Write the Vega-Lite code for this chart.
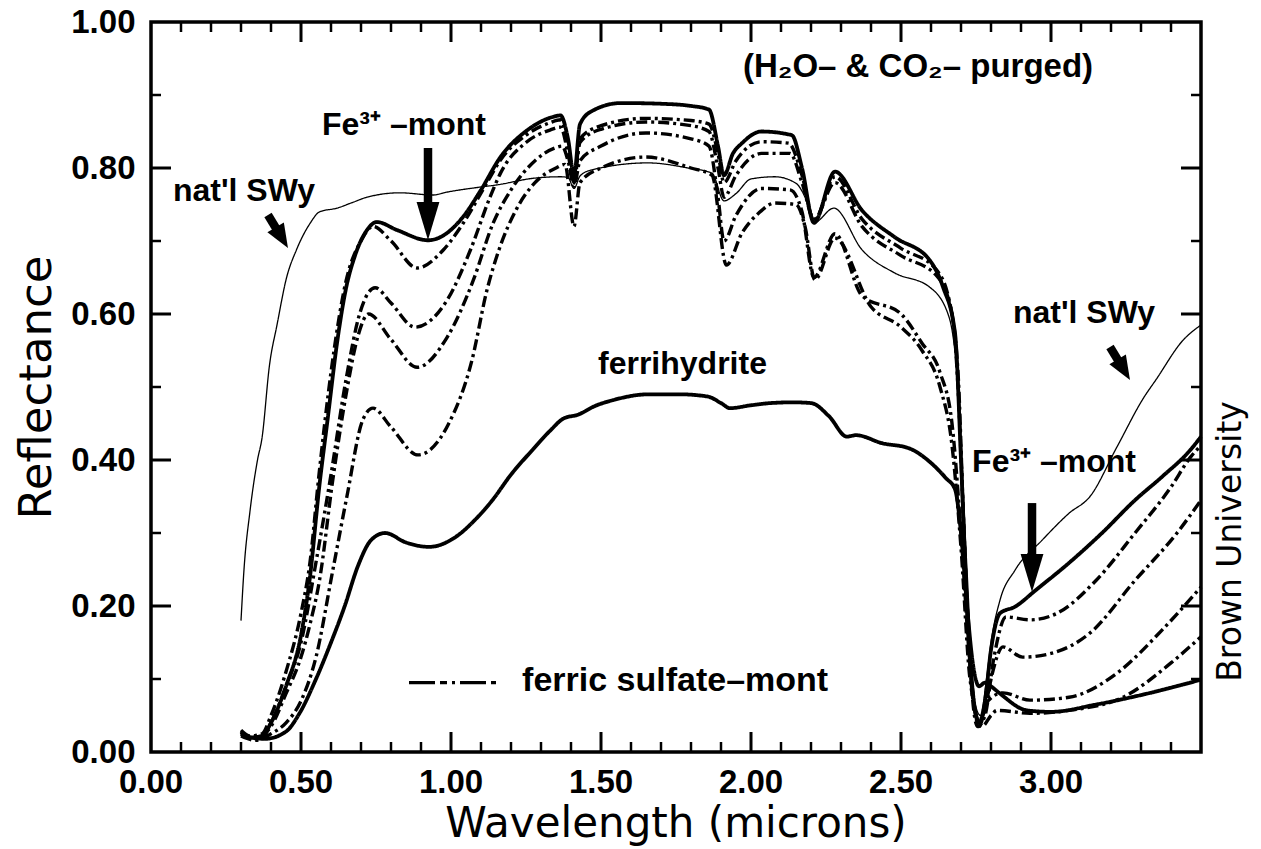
{
  "$schema": "https://vega.github.io/schema/vega-lite/v6.json",
  "width": 1050,
  "height": 730,
  "autosize": {"type": "none"},
  "padding": {"left": 151, "top": 22, "right": 60, "bottom": 97},
  "background": "white",
  "config": {
    "view": {"stroke": "black", "strokeWidth": 3.5},
    "axis": {"grid": false, "domain": false, "ticks": false, "labelColor": "black", "titleColor": "black", "labelFont": "Liberation Sans", "titleFont": "DejaVu Sans", "labelOverlap": false, "labelFlush": false}
  },
  "datasets": {
    "curves": [
      {"s":"natl","w":0.30,"r":0.18},{"s":"natl","w":0.31,"r":0.25},{"s":"natl","w":0.33,"r":0.33},{"s":"natl","w":0.355,"r":0.40},{"s":"natl","w":0.37,"r":0.43},{"s":"natl","w":0.395,"r":0.53},{"s":"natl","w":0.42,"r":0.585},{"s":"natl","w":0.452,"r":0.65},{"s":"natl","w":0.485,"r":0.688},{"s":"natl","w":0.53,"r":0.724},{"s":"natl","w":0.562,"r":0.74},{"s":"natl","w":0.62,"r":0.745},{"s":"natl","w":0.673,"r":0.753},{"s":"natl","w":0.72,"r":0.76},{"s":"natl","w":0.83,"r":0.766},{"s":"natl","w":0.94,"r":0.763},{"s":"natl","w":0.987,"r":0.767},{"s":"natl","w":1.10,"r":0.774},{"s":"natl","w":1.155,"r":0.777},{"s":"natl","w":1.276,"r":0.786},{"s":"natl","w":1.366,"r":0.788},{"s":"natl","w":1.39,"r":0.787},{"s":"natl","w":1.41,"r":0.772},{"s":"natl","w":1.43,"r":0.789},{"s":"natl","w":1.466,"r":0.797},{"s":"natl","w":1.657,"r":0.807},{"s":"natl","w":1.79,"r":0.80},{"s":"natl","w":1.87,"r":0.793},{"s":"natl","w":1.91,"r":0.755},{"s":"natl","w":1.95,"r":0.765},{"s":"natl","w":2.0,"r":0.785},{"s":"natl","w":2.08,"r":0.788},{"s":"natl","w":2.15,"r":0.779},{"s":"natl","w":2.18,"r":0.76},{"s":"natl","w":2.21,"r":0.725},{"s":"natl","w":2.276,"r":0.745},{"s":"natl","w":2.37,"r":0.688},{"s":"natl","w":2.48,"r":0.656},{"s":"natl","w":2.595,"r":0.637},{"s":"natl","w":2.66,"r":0.596},{"s":"natl","w":2.69,"r":0.50},{"s":"natl","w":2.72,"r":0.25},{"s":"natl","w":2.745,"r":0.07},{"s":"natl","w":2.765,"r":0.05},{"s":"natl","w":2.785,"r":0.10},{"s":"natl","w":2.80,"r":0.15},{"s":"natl","w":2.83,"r":0.208},{"s":"natl","w":2.88,"r":0.249},{"s":"natl","w":2.97,"r":0.29},{"s":"natl","w":3.06,"r":0.327},{"s":"natl","w":3.13,"r":0.35},{"s":"natl","w":3.22,"r":0.418},{"s":"natl","w":3.31,"r":0.486},{"s":"natl","w":3.35,"r":0.51},{"s":"natl","w":3.44,"r":0.564},{"s":"natl","w":3.50,"r":0.585},

      {"s":"fe3","w":0.30,"r":0.028},{"s":"fe3","w":0.33,"r":0.02},{"s":"fe3","w":0.37,"r":0.022},{"s":"fe3","w":0.40,"r":0.04},{"s":"fe3","w":0.45,"r":0.09},{"s":"fe3","w":0.50,"r":0.16},{"s":"fe3","w":0.53,"r":0.24},{"s":"fe3","w":0.56,"r":0.36},{"s":"fe3","w":0.59,"r":0.46},{"s":"fe3","w":0.62,"r":0.56},{"s":"fe3","w":0.65,"r":0.635},{"s":"fe3","w":0.68,"r":0.68},{"s":"fe3","w":0.72,"r":0.715},{"s":"fe3","w":0.753,"r":0.726},{"s":"fe3","w":0.82,"r":0.715},{"s":"fe3","w":0.924,"r":0.701},{"s":"fe3","w":0.987,"r":0.711},{"s":"fe3","w":1.04,"r":0.733},{"s":"fe3","w":1.10,"r":0.77},{"s":"fe3","w":1.165,"r":0.815},{"s":"fe3","w":1.255,"r":0.852},{"s":"fe3","w":1.34,"r":0.87},{"s":"fe3","w":1.365,"r":0.872},{"s":"fe3","w":1.39,"r":0.84},{"s":"fe3","w":1.41,"r":0.79},{"s":"fe3","w":1.43,"r":0.86},{"s":"fe3","w":1.47,"r":0.878},{"s":"fe3","w":1.567,"r":0.889},{"s":"fe3","w":1.70,"r":0.888},{"s":"fe3","w":1.80,"r":0.885},{"s":"fe3","w":1.86,"r":0.88},{"s":"fe3","w":1.89,"r":0.83},{"s":"fe3","w":1.91,"r":0.79},{"s":"fe3","w":1.94,"r":0.82},{"s":"fe3","w":1.97,"r":0.834},{"s":"fe3","w":2.035,"r":0.85},{"s":"fe3","w":2.136,"r":0.845},{"s":"fe3","w":2.17,"r":0.80},{"s":"fe3","w":2.21,"r":0.725},{"s":"fe3","w":2.28,"r":0.795},{"s":"fe3","w":2.37,"r":0.742},{"s":"fe3","w":2.48,"r":0.705},{"s":"fe3","w":2.595,"r":0.674},{"s":"fe3","w":2.64,"r":0.637},{"s":"fe3","w":2.68,"r":0.574},{"s":"fe3","w":2.70,"r":0.40},{"s":"fe3","w":2.72,"r":0.20},{"s":"fe3","w":2.74,"r":0.08},{"s":"fe3","w":2.76,"r":0.04},{"s":"fe3","w":2.78,"r":0.07},{"s":"fe3","w":2.80,"r":0.14},{"s":"fe3","w":2.83,"r":0.19},{"s":"fe3","w":2.88,"r":0.199},{"s":"fe3","w":2.95,"r":0.222},{"s":"fe3","w":3.06,"r":0.259},{"s":"fe3","w":3.17,"r":0.30},{"s":"fe3","w":3.28,"r":0.345},{"s":"fe3","w":3.37,"r":0.377},{"s":"fe3","w":3.465,"r":0.414},{"s":"fe3","w":3.50,"r":0.432},

      {"s":"fsm1","w":0.30,"r":0.03},{"s":"fsm1","w":0.33,"r":0.022},{"s":"fsm1","w":0.37,"r":0.025},{"s":"fsm1","w":0.40,"r":0.05},{"s":"fsm1","w":0.45,"r":0.11},{"s":"fsm1","w":0.50,"r":0.19},{"s":"fsm1","w":0.53,"r":0.26},{"s":"fsm1","w":0.56,"r":0.38},{"s":"fsm1","w":0.60,"r":0.52},{"s":"fsm1","w":0.65,"r":0.645},{"s":"fsm1","w":0.70,"r":0.70},{"s":"fsm1","w":0.74,"r":0.72},{"s":"fsm1","w":0.80,"r":0.70},{"s":"fsm1","w":0.887,"r":0.663},{"s":"fsm1","w":0.975,"r":0.688},{"s":"fsm1","w":1.04,"r":0.724},{"s":"fsm1","w":1.12,"r":0.78},{"s":"fsm1","w":1.165,"r":0.811},{"s":"fsm1","w":1.25,"r":0.845},{"s":"fsm1","w":1.33,"r":0.862},{"s":"fsm1","w":1.365,"r":0.866},{"s":"fsm1","w":1.39,"r":0.83},{"s":"fsm1","w":1.41,"r":0.785},{"s":"fsm1","w":1.43,"r":0.84},{"s":"fsm1","w":1.50,"r":0.858},{"s":"fsm1","w":1.65,"r":0.868},{"s":"fsm1","w":1.80,"r":0.865},{"s":"fsm1","w":1.86,"r":0.86},{"s":"fsm1","w":1.89,"r":0.82},{"s":"fsm1","w":1.91,"r":0.78},{"s":"fsm1","w":1.95,"r":0.81},{"s":"fsm1","w":2.035,"r":0.836},{"s":"fsm1","w":2.125,"r":0.834},{"s":"fsm1","w":2.17,"r":0.79},{"s":"fsm1","w":2.21,"r":0.728},{"s":"fsm1","w":2.28,"r":0.788},{"s":"fsm1","w":2.37,"r":0.73},{"s":"fsm1","w":2.50,"r":0.69},{"s":"fsm1","w":2.615,"r":0.662},{"s":"fsm1","w":2.66,"r":0.62},{"s":"fsm1","w":2.69,"r":0.52},{"s":"fsm1","w":2.71,"r":0.30},{"s":"fsm1","w":2.73,"r":0.12},{"s":"fsm1","w":2.755,"r":0.035},{"s":"fsm1","w":2.78,"r":0.05},{"s":"fsm1","w":2.81,"r":0.13},{"s":"fsm1","w":2.85,"r":0.185},{"s":"fsm1","w":2.93,"r":0.181},{"s":"fsm1","w":3.02,"r":0.19},{"s":"fsm1","w":3.15,"r":0.235},{"s":"fsm1","w":3.28,"r":0.30},{"s":"fsm1","w":3.40,"r":0.363},{"s":"fsm1","w":3.465,"r":0.404},{"s":"fsm1","w":3.50,"r":0.42},

      {"s":"fsm2","w":0.30,"r":0.027},{"s":"fsm2","w":0.33,"r":0.02},{"s":"fsm2","w":0.37,"r":0.02},{"s":"fsm2","w":0.40,"r":0.04},{"s":"fsm2","w":0.45,"r":0.09},{"s":"fsm2","w":0.50,"r":0.15},{"s":"fsm2","w":0.55,"r":0.26},{"s":"fsm2","w":0.60,"r":0.38},{"s":"fsm2","w":0.65,"r":0.51},{"s":"fsm2","w":0.696,"r":0.601},{"s":"fsm2","w":0.747,"r":0.636},{"s":"fsm2","w":0.80,"r":0.615},{"s":"fsm2","w":0.88,"r":0.582},{"s":"fsm2","w":0.987,"r":0.619},{"s":"fsm2","w":1.065,"r":0.688},{"s":"fsm2","w":1.13,"r":0.76},{"s":"fsm2","w":1.165,"r":0.793},{"s":"fsm2","w":1.25,"r":0.835},{"s":"fsm2","w":1.33,"r":0.852},{"s":"fsm2","w":1.365,"r":0.856},{"s":"fsm2","w":1.39,"r":0.82},{"s":"fsm2","w":1.41,"r":0.78},{"s":"fsm2","w":1.43,"r":0.835},{"s":"fsm2","w":1.50,"r":0.853},{"s":"fsm2","w":1.65,"r":0.863},{"s":"fsm2","w":1.80,"r":0.858},{"s":"fsm2","w":1.86,"r":0.85},{"s":"fsm2","w":1.89,"r":0.80},{"s":"fsm2","w":1.91,"r":0.76},{"s":"fsm2","w":1.95,"r":0.79},{"s":"fsm2","w":2.035,"r":0.82},{"s":"fsm2","w":2.13,"r":0.82},{"s":"fsm2","w":2.17,"r":0.78},{"s":"fsm2","w":2.21,"r":0.73},{"s":"fsm2","w":2.28,"r":0.78},{"s":"fsm2","w":2.37,"r":0.72},{"s":"fsm2","w":2.50,"r":0.68},{"s":"fsm2","w":2.62,"r":0.652},{"s":"fsm2","w":2.67,"r":0.60},{"s":"fsm2","w":2.69,"r":0.50},{"s":"fsm2","w":2.71,"r":0.30},{"s":"fsm2","w":2.73,"r":0.12},{"s":"fsm2","w":2.76,"r":0.04},{"s":"fsm2","w":2.78,"r":0.06},{"s":"fsm2","w":2.80,"r":0.10},{"s":"fsm2","w":2.84,"r":0.144},{"s":"fsm2","w":2.905,"r":0.13},{"s":"fsm2","w":3.0,"r":0.135},{"s":"fsm2","w":3.13,"r":0.163},{"s":"fsm2","w":3.28,"r":0.235},{"s":"fsm2","w":3.42,"r":0.30},{"s":"fsm2","w":3.50,"r":0.345},

      {"s":"fsm3","w":0.30,"r":0.025},{"s":"fsm3","w":0.35,"r":0.018},{"s":"fsm3","w":0.40,"r":0.035},{"s":"fsm3","w":0.45,"r":0.08},{"s":"fsm3","w":0.50,"r":0.13},{"s":"fsm3","w":0.53,"r":0.175},{"s":"fsm3","w":0.562,"r":0.236},{"s":"fsm3","w":0.606,"r":0.373},{"s":"fsm3","w":0.653,"r":0.496},{"s":"fsm3","w":0.69,"r":0.57},{"s":"fsm3","w":0.725,"r":0.60},{"s":"fsm3","w":0.80,"r":0.565},{"s":"fsm3","w":0.887,"r":0.527},{"s":"fsm3","w":0.987,"r":0.568},{"s":"fsm3","w":1.075,"r":0.647},{"s":"fsm3","w":1.14,"r":0.724},{"s":"fsm3","w":1.20,"r":0.77},{"s":"fsm3","w":1.28,"r":0.81},{"s":"fsm3","w":1.35,"r":0.828},{"s":"fsm3","w":1.37,"r":0.83},{"s":"fsm3","w":1.39,"r":0.81},{"s":"fsm3","w":1.41,"r":0.775},{"s":"fsm3","w":1.43,"r":0.81},{"s":"fsm3","w":1.50,"r":0.83},{"s":"fsm3","w":1.65,"r":0.848},{"s":"fsm3","w":1.80,"r":0.84},{"s":"fsm3","w":1.86,"r":0.83},{"s":"fsm3","w":1.89,"r":0.76},{"s":"fsm3","w":1.91,"r":0.70},{"s":"fsm3","w":1.95,"r":0.735},{"s":"fsm3","w":2.035,"r":0.772},{"s":"fsm3","w":2.13,"r":0.77},{"s":"fsm3","w":2.17,"r":0.74},{"s":"fsm3","w":2.21,"r":0.65},{"s":"fsm3","w":2.28,"r":0.71},{"s":"fsm3","w":2.37,"r":0.625},{"s":"fsm3","w":2.50,"r":0.60},{"s":"fsm3","w":2.57,"r":0.56},{"s":"fsm3","w":2.63,"r":0.52},{"s":"fsm3","w":2.67,"r":0.45},{"s":"fsm3","w":2.70,"r":0.30},{"s":"fsm3","w":2.73,"r":0.12},{"s":"fsm3","w":2.76,"r":0.035},{"s":"fsm3","w":2.79,"r":0.07},{"s":"fsm3","w":2.84,"r":0.081},{"s":"fsm3","w":2.93,"r":0.071},{"s":"fsm3","w":3.06,"r":0.075},{"s":"fsm3","w":3.22,"r":0.108},{"s":"fsm3","w":3.37,"r":0.167},{"s":"fsm3","w":3.50,"r":0.226},

      {"s":"fsm4","w":0.30,"r":0.022},{"s":"fsm4","w":0.35,"r":0.016},{"s":"fsm4","w":0.40,"r":0.025},{"s":"fsm4","w":0.45,"r":0.04},{"s":"fsm4","w":0.50,"r":0.07},{"s":"fsm4","w":0.55,"r":0.13},{"s":"fsm4","w":0.606,"r":0.249},{"s":"fsm4","w":0.653,"r":0.35},{"s":"fsm4","w":0.706,"r":0.455},{"s":"fsm4","w":0.74,"r":0.471},{"s":"fsm4","w":0.80,"r":0.445},{"s":"fsm4","w":0.89,"r":0.407},{"s":"fsm4","w":0.99,"r":0.448},{"s":"fsm4","w":1.07,"r":0.537},{"s":"fsm4","w":1.12,"r":0.633},{"s":"fsm4","w":1.16,"r":0.688},{"s":"fsm4","w":1.22,"r":0.745},{"s":"fsm4","w":1.28,"r":0.78},{"s":"fsm4","w":1.35,"r":0.80},{"s":"fsm4","w":1.38,"r":0.805},{"s":"fsm4","w":1.41,"r":0.72},{"s":"fsm4","w":1.43,"r":0.78},{"s":"fsm4","w":1.50,"r":0.80},{"s":"fsm4","w":1.65,"r":0.815},{"s":"fsm4","w":1.80,"r":0.80},{"s":"fsm4","w":1.87,"r":0.79},{"s":"fsm4","w":1.918,"r":0.667},{"s":"fsm4","w":1.97,"r":0.711},{"s":"fsm4","w":2.025,"r":0.738},{"s":"fsm4","w":2.08,"r":0.752},{"s":"fsm4","w":2.15,"r":0.75},{"s":"fsm4","w":2.18,"r":0.72},{"s":"fsm4","w":2.213,"r":0.647},{"s":"fsm4","w":2.28,"r":0.704},{"s":"fsm4","w":2.40,"r":0.61},{"s":"fsm4","w":2.50,"r":0.582},{"s":"fsm4","w":2.57,"r":0.55},{"s":"fsm4","w":2.63,"r":0.50},{"s":"fsm4","w":2.67,"r":0.42},{"s":"fsm4","w":2.70,"r":0.28},{"s":"fsm4","w":2.73,"r":0.10},{"s":"fsm4","w":2.77,"r":0.035},{"s":"fsm4","w":2.80,"r":0.05},{"s":"fsm4","w":2.82,"r":0.057},{"s":"fsm4","w":2.93,"r":0.053},{"s":"fsm4","w":3.06,"r":0.057},{"s":"fsm4","w":3.24,"r":0.075},{"s":"fsm4","w":3.40,"r":0.122},{"s":"fsm4","w":3.50,"r":0.158},

      {"s":"ferri","w":0.30,"r":0.025},{"s":"ferri","w":0.33,"r":0.02},{"s":"ferri","w":0.38,"r":0.018},{"s":"ferri","w":0.45,"r":0.028},{"s":"ferri","w":0.495,"r":0.053},{"s":"ferri","w":0.55,"r":0.10},{"s":"ferri","w":0.60,"r":0.15},{"s":"ferri","w":0.645,"r":0.199},{"s":"ferri","w":0.69,"r":0.255},{"s":"ferri","w":0.733,"r":0.29},{"s":"ferri","w":0.78,"r":0.30},{"s":"ferri","w":0.85,"r":0.287},{"s":"ferri","w":0.927,"r":0.281},{"s":"ferri","w":1.017,"r":0.295},{"s":"ferri","w":1.08,"r":0.318},{"s":"ferri","w":1.138,"r":0.345},{"s":"ferri","w":1.20,"r":0.38},{"s":"ferri","w":1.272,"r":0.414},{"s":"ferri","w":1.33,"r":0.44},{"s":"ferri","w":1.376,"r":0.457},{"s":"ferri","w":1.423,"r":0.462},{"s":"ferri","w":1.48,"r":0.474},{"s":"ferri","w":1.54,"r":0.482},{"s":"ferri","w":1.66,"r":0.49},{"s":"ferri","w":1.76,"r":0.49},{"s":"ferri","w":1.855,"r":0.487},{"s":"ferri","w":1.90,"r":0.478},{"s":"ferri","w":1.93,"r":0.471},{"s":"ferri","w":2.0,"r":0.475},{"s":"ferri","w":2.066,"r":0.478},{"s":"ferri","w":2.14,"r":0.479},{"s":"ferri","w":2.20,"r":0.478},{"s":"ferri","w":2.26,"r":0.46},{"s":"ferri","w":2.32,"r":0.432},{"s":"ferri","w":2.35,"r":0.434},{"s":"ferri","w":2.437,"r":0.423},{"s":"ferri","w":2.527,"r":0.416},{"s":"ferri","w":2.60,"r":0.396},{"s":"ferri","w":2.65,"r":0.375},{"s":"ferri","w":2.68,"r":0.36},{"s":"ferri","w":2.70,"r":0.30},{"s":"ferri","w":2.72,"r":0.20},{"s":"ferri","w":2.74,"r":0.12},{"s":"ferri","w":2.76,"r":0.09},{"s":"ferri","w":2.78,"r":0.095},{"s":"ferri","w":2.80,"r":0.09},{"s":"ferri","w":2.83,"r":0.08},{"s":"ferri","w":2.92,"r":0.057},{"s":"ferri","w":3.0,"r":0.055},{"s":"ferri","w":3.15,"r":0.065},{"s":"ferri","w":3.30,"r":0.078},{"s":"ferri","w":3.50,"r":0.099}
    ],
    "labels": [
      {"t": "nat'l SWy", "x": 0.073, "y": 0.768},
      {"t": "Fe³⁺ –mont", "x": 0.57, "y": 0.859},
      {"t": "nat'l SWy", "x": 2.873, "y": 0.601},
      {"t": "Fe³⁺ –mont", "x": 2.737, "y": 0.397},
      {"t": "ferrihydrite", "x": 1.49, "y": 0.532}
    ],
    "arrows": [
      {"dir": "down", "x": 0.9233, "y": 0.8274, "x2": 0.9233, "y2": 0.7274},
      {"dir": "down", "x": 2.9367, "y": 0.341, "x2": 2.9367, "y2": 0.2452},
      {"dir": "diag", "x": 0.39, "y": 0.7356, "x2": 0.436, "y2": 0.7045},
      {"dir": "diag", "x": 3.1967, "y": 0.5548, "x2": 3.2427, "y2": 0.5237}
    ],
    "xlabels": [{"v": 0}, {"v": 0.5}, {"v": 1.0}, {"v": 1.5}, {"v": 2.0}, {"v": 2.5}, {"v": 3.0}],
    "xtitle": [{"t": "Wavelength (microns)", "x": 1.75}],
    "xmajor": [{"v": 0.5}, {"v": 1.0}, {"v": 1.5}, {"v": 2.0}, {"v": 2.5}, {"v": 3.0}],
    "xminor": [{"v":0.1},{"v":0.2},{"v":0.3},{"v":0.4},{"v":0.6},{"v":0.7},{"v":0.8},{"v":0.9},{"v":1.1},{"v":1.2},{"v":1.3},{"v":1.4},{"v":1.6},{"v":1.7},{"v":1.8},{"v":1.9},{"v":2.1},{"v":2.2},{"v":2.3},{"v":2.4},{"v":2.6},{"v":2.7},{"v":2.8},{"v":2.9},{"v":3.1},{"v":3.2},{"v":3.3},{"v":3.4}],
    "ymajor": [{"v": 0.2}, {"v": 0.4}, {"v": 0.6}, {"v": 0.8}],
    "yminor": [{"v": 0.1}, {"v": 0.3}, {"v": 0.5}, {"v": 0.7}, {"v": 0.9}],
    "legendline": [{"x": 0.86, "x2": 1.15, "y": 0.095}],
    "legendtext": [{"t": "ferric sulfate–mont", "x": 1.237, "y": 0.097}],
    "note": [{"t": "(H₂O– & CO₂– purged)", "x": 1.973, "y": 0.938}]
  },
  "layer": [
    {
      "data": {"name": "curves"},
      "mark": {"type": "line", "interpolate": "monotone", "color": "black", "strokeJoin": "round"},
      "encoding": {
        "x": {"field": "w", "type": "quantitative", "scale": {"domain": [0, 3.5], "nice": false, "zero": false}, "axis": null},
        "y": {"field": "r", "type": "quantitative", "scale": {"domain": [0, 1], "nice": false, "zero": false},
          "axis": {"orient": "left", "values": [0, 0.2, 0.4, 0.6, 0.8, 1.0], "format": ".2f", "ticks": false, "labelPadding": 16, "labelFontSize": 33, "labelFontWeight": "bold", "title": "Reflectance", "titleFontSize": 45, "titleFontWeight": "normal", "titleBaseline": "alphabetic", "titleAlign": "center", "titleAngle": 270, "titleX": -101, "titleY": 365}},
        "detail": {"field": "s", "type": "nominal"},
        "strokeDash": {"field": "s", "type": "nominal", "legend": null,
          "scale": {"type": "ordinal", "domain": ["natl", "fe3", "ferri", "fsm1", "fsm2", "fsm3", "fsm4"], "range": [[1, 0], [1, 0], [1, 0], [11, 4, 3, 4], [11, 4, 3, 4], [11, 4, 3, 4], [11, 4, 3, 4]]}},
        "strokeWidth": {"field": "s", "type": "nominal", "legend": null,
          "scale": {"type": "ordinal", "domain": ["natl", "fe3", "ferri", "fsm1", "fsm2", "fsm3", "fsm4"], "range": [1.3, 3.8, 3.8, 3.4, 3.4, 3.4, 3.4]}}
      }
    },
    {
      "data": {"name": "xlabels"},
      "mark": {"type": "text", "align": "center", "baseline": "top", "font": "Liberation Sans", "fontSize": 33, "fontWeight": "bold", "color": "black", "clip": false},
      "encoding": {
        "x": {"field": "v", "type": "quantitative", "axis": null},
        "y": {"datum": -0.0199, "type": "quantitative", "axis": null},
        "text": {"field": "v", "type": "quantitative", "format": ".2f"}
      }
    },
    {
      "data": {"name": "xtitle"},
      "mark": {"type": "text", "align": "center", "baseline": "alphabetic", "font": "DejaVu Sans", "fontSize": 42, "color": "black", "clip": false},
      "encoding": {
        "x": {"field": "x", "type": "quantitative", "axis": null},
        "y": {"datum": -0.1164, "type": "quantitative", "axis": null},
        "text": {"field": "t"}
      }
    },
    {
      "data": {"name": "xmajor"},
      "mark": {"type": "rule", "color": "black", "strokeWidth": 3},
      "encoding": {
        "x": {"field": "v", "type": "quantitative", "axis": null},
        "y": {"datum": 0, "type": "quantitative", "axis": null},
        "y2": {"datum": 0.0274}
      }
    },
    {
      "data": {"name": "xmajor"},
      "mark": {"type": "rule", "color": "black", "strokeWidth": 3},
      "encoding": {
        "x": {"field": "v", "type": "quantitative", "axis": null},
        "y": {"datum": 1, "type": "quantitative", "axis": null},
        "y2": {"datum": 0.9726}
      }
    },
    {
      "data": {"name": "xminor"},
      "mark": {"type": "rule", "color": "black", "strokeWidth": 2.5},
      "encoding": {
        "x": {"field": "v", "type": "quantitative", "axis": null},
        "y": {"datum": 0, "type": "quantitative", "axis": null},
        "y2": {"datum": 0.0137}
      }
    },
    {
      "data": {"name": "xminor"},
      "mark": {"type": "rule", "color": "black", "strokeWidth": 2.5},
      "encoding": {
        "x": {"field": "v", "type": "quantitative", "axis": null},
        "y": {"datum": 1, "type": "quantitative", "axis": null},
        "y2": {"datum": 0.9863}
      }
    },
    {
      "data": {"name": "ymajor"},
      "mark": {"type": "rule", "color": "black", "strokeWidth": 3},
      "encoding": {
        "y": {"field": "v", "type": "quantitative", "axis": null},
        "x": {"datum": 0, "type": "quantitative", "axis": null},
        "x2": {"datum": 0.0667}
      }
    },
    {
      "data": {"name": "ymajor"},
      "mark": {"type": "rule", "color": "black", "strokeWidth": 3},
      "encoding": {
        "y": {"field": "v", "type": "quantitative",
          "axis": {"orient": "right", "values": [0.2, 0.4, 0.6, 0.8], "ticks": false, "labels": false, "domain": false, "title": "Brown University", "titleFont": "DejaVu Sans", "titleFontSize": 33, "titleFontWeight": "normal", "titleAngle": 270, "titleAlign": "center", "titleBaseline": "alphabetic", "titleX": 39, "titleY": 519}},
        "x": {"datum": 3.5, "type": "quantitative", "axis": null},
        "x2": {"datum": 3.4333}
      }
    },
    {
      "data": {"name": "yminor"},
      "mark": {"type": "rule", "color": "black", "strokeWidth": 2.5},
      "encoding": {
        "y": {"field": "v", "type": "quantitative", "axis": null},
        "x": {"datum": 0, "type": "quantitative", "axis": null},
        "x2": {"datum": 0.0333}
      }
    },
    {
      "data": {"name": "yminor"},
      "mark": {"type": "rule", "color": "black", "strokeWidth": 2.5},
      "encoding": {
        "y": {"field": "v", "type": "quantitative", "axis": null},
        "x": {"datum": 3.5, "type": "quantitative", "axis": null},
        "x2": {"datum": 3.4667}
      }
    },
    {
      "data": {"name": "labels"},
      "mark": {"type": "text", "align": "left", "baseline": "middle", "font": "Liberation Sans", "fontSize": 32, "fontWeight": "bold", "color": "black"},
      "encoding": {
        "x": {"field": "x", "type": "quantitative", "axis": null},
        "y": {"field": "y", "type": "quantitative", "axis": null},
        "text": {"field": "t"}
      }
    },
    {
      "data": {"name": "arrows"},
      "mark": {"type": "rule", "color": "black", "strokeWidth": 8.5, "strokeCap": "butt"},
      "encoding": {
        "x": {"field": "x", "type": "quantitative", "axis": null},
        "y": {"field": "y", "type": "quantitative", "axis": null},
        "x2": {"field": "x2"},
        "y2": {"field": "y2"}
      }
    },
    {
      "data": {"name": "arrows"},
      "mark": {"type": "point", "filled": true, "color": "black", "opacity": 1, "strokeWidth": 0},
      "encoding": {
        "x": {"field": "x2", "type": "quantitative", "axis": null},
        "y": {"field": "y2", "type": "quantitative", "axis": null},
        "shape": {"field": "dir", "type": "nominal", "legend": null, "scale": {"type": "ordinal", "domain": ["down", "diag"], "range": ["M-0.6,-1L0.6,-1L0,1Z", "M-0.8,-1L0.8,-1L0,1Z"]}},
        "size": {"field": "dir", "type": "nominal", "legend": null, "scale": {"type": "ordinal", "domain": ["down", "diag"], "range": [1444, 576]}},
        "angle": {"field": "dir", "type": "nominal", "legend": null, "scale": {"type": "ordinal", "domain": ["down", "diag"], "range": [0, 329]}}
      }
    },
    {
      "data": {"name": "legendline"},
      "mark": {"type": "rule", "color": "black", "strokeWidth": 3.4, "strokeDash": [26, 5, 7, 5, 3, 5]},
      "encoding": {
        "x": {"field": "x", "type": "quantitative", "axis": null},
        "x2": {"field": "x2"},
        "y": {"field": "y", "type": "quantitative", "axis": null}
      }
    },
    {
      "data": {"name": "legendtext"},
      "mark": {"type": "text", "align": "left", "baseline": "middle", "font": "Liberation Sans", "fontSize": 34, "fontWeight": "bold", "color": "black"},
      "encoding": {
        "x": {"field": "x", "type": "quantitative", "axis": null},
        "y": {"field": "y", "type": "quantitative", "axis": null},
        "text": {"field": "t"}
      }
    },
    {
      "data": {"name": "note"},
      "mark": {"type": "text", "align": "left", "baseline": "middle", "font": "Liberation Sans", "fontSize": 33, "fontWeight": "bold", "color": "black"},
      "encoding": {
        "x": {"field": "x", "type": "quantitative", "axis": null},
        "y": {"field": "y", "type": "quantitative", "axis": null},
        "text": {"field": "t"}
      }
    }
  ],
  "resolve": {"axis": {"y": "independent"}}
}
